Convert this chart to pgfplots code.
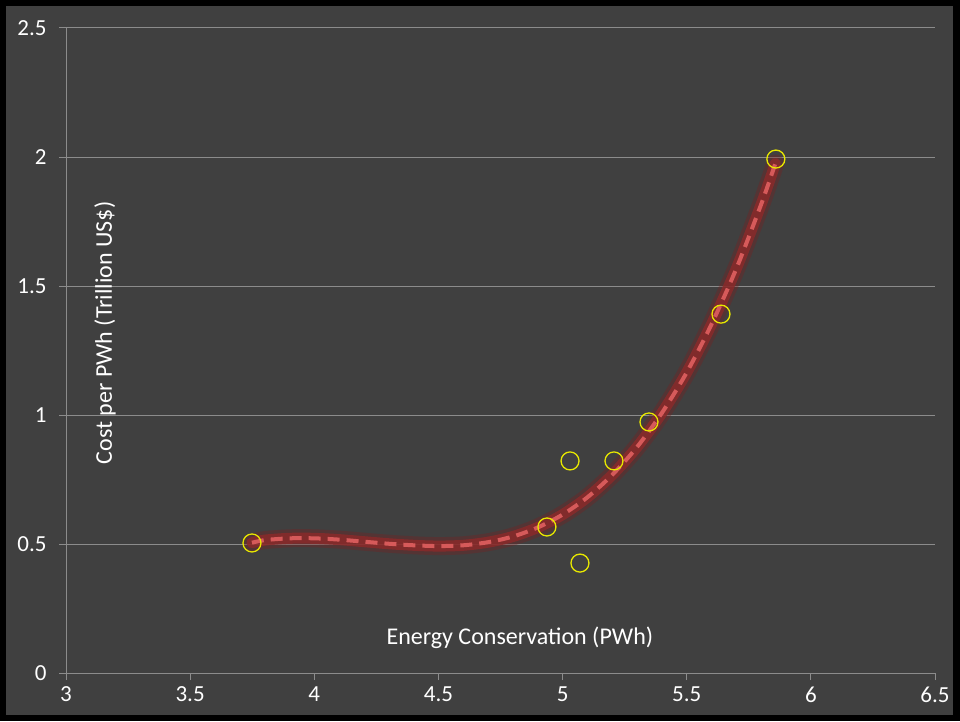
\documentclass[border=0pt]{standalone}
\usepackage{fontspec}
\setmainfont{Carlito}
\usepackage{pgfplots}
\pgfplotsset{compat=1.18}
\definecolor{bg}{HTML}{404040}
\definecolor{gridc}{HTML}{8C8C8C}
\definecolor{mk}{HTML}{E8E800}
\definecolor{trglow}{HTML}{7A1E1E}
\definecolor{trdark}{HTML}{8A2A2A}
\definecolor{trdash}{HTML}{D65A5A}
\pgfplotstableread{
x y
3.749 0.505
3.8 0.515
3.9 0.522
4.0 0.522
4.1 0.517
4.2 0.509
4.3 0.501
4.4 0.495
4.5 0.492
4.6 0.495
4.7 0.507
4.8 0.529
4.9 0.564
5.0 0.614
5.1 0.681
5.2 0.768
5.3 0.876
5.4 1.008
5.5 1.165
5.6 1.352
5.7 1.568
5.8 1.817
5.857 1.975
}\trend
\pgfplotstableread{
x y
3.749 0.504
4.937 0.566
5.030 0.822
5.070 0.426
5.207 0.822
5.348 0.973
5.638 1.391
5.859 1.992
}\pts
\begin{document}
\begin{tikzpicture}[x=1pt,y=1pt]
\fill[black] (0,0) rectangle (960,721);
\fill[bg] (6,6) rectangle (953,715);
\begin{axis}[
  at={(66pt,48pt)}, anchor=south west,
  scale only axis, width=869pt, height=645pt,
  xmin=3, xmax=6.5, ymin=0, ymax=2.5,
  xtick={3,3.5,4,4.5,5,5.5,6,6.5},
  ytick={0,0.5,1,1.5,2,2.5},
  axis x line*=bottom, axis y line*=left,
  ymajorgrids, grid style={gridc, line width=1pt},
  axis line style={gridc, line width=1pt},
  tick style={gridc, line width=1pt},
  tick align=outside, major tick length=7pt,
  ticklabel style={white, font=\fontsize{23}{26}\selectfont},
  xticklabel style={yshift=-3pt},
  yticklabel style={xshift=-9pt},
  /pgf/number format/assume math mode=true,
  clip=false,
]
\addplot[smooth, trglow, opacity=0.35, line width=18pt, line cap=round] table[x=x,y=y] {\trend};
\addplot[smooth, trdark, opacity=0.85, line width=11pt, line cap=round] table[x=x,y=y] {\trend};
\addplot[smooth, trdash, line width=4pt, dash pattern=on 12pt off 7pt] table[x=x,y=y] {\trend};
\addplot[only marks, mark=o, mark size=9pt, mark options={mk, line width=1.3pt}] table[x=x,y=y] {\pts};
\node[white, rotate=90, font=\fontsize{24}{28}\selectfont] at (axis cs:3.157,1.318) {Cost per PWh (Trillion US\$)};
\node[white, font=\fontsize{24}{28}\selectfont] at (axis cs:4.828,0.136) {Energy Conservation (PWh)};
\end{axis}
\end{tikzpicture}
\end{document}
